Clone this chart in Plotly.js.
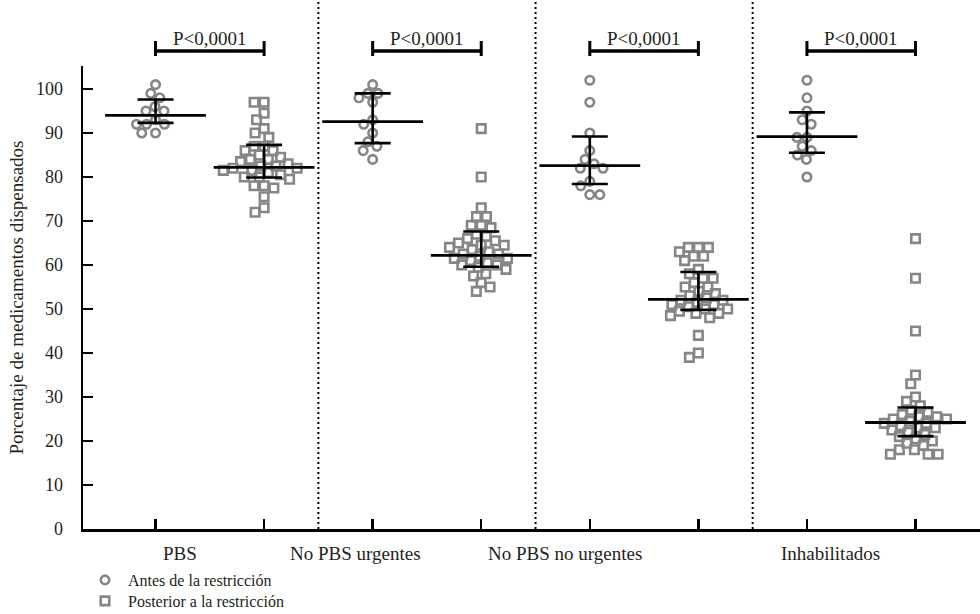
<!DOCTYPE html>
<html>
<head>
<meta charset="utf-8">
<script src="https://cdn.plot.ly/plotly-3.0.1.min.js"></script>
<style>html,body{margin:0;padding:0;background:#fff;}#chart{width:980px;height:614px;}</style>
</head>
<body>
<div id="chart"></div>
<script>
// ---- Data ----
const categories = ["PBS", "No PBS urgentes", "No PBS no urgentes", "Inhabilitados"];
const seriesNames = ["Antes de la restricción", "Posterior a la restricción"];
const pValues = ["P<0,0001", "P<0,0001", "P<0,0001", "P<0,0001"];

const antesPBS   = [101, 99, 98, 96, 95, 95, 93, 92, 92, 92, 90, 90];
const postPBS    = [97, 97, 94.5, 93, 91, 90, 89, 87, 87, 86, 86, 85, 84.5, 84, 84, 83.5, 83, 82.5, 82.5, 82, 82, 81.5, 81.5, 81, 80.5, 80, 80, 79.5, 78, 78, 77.5, 75.5, 73, 72];
const antesUrg   = [101, 99, 99, 98, 97, 93, 92, 90, 88, 87, 86, 84];
const postUrg    = [91, 80, 73, 71, 71, 69, 69, 68.5, 67, 66.5, 66, 65.5, 65, 64.5, 64.5, 64, 63.5, 63, 62.5, 62.5, 62, 61.5, 61.5, 61, 60.5, 60, 60, 59.5, 59, 58, 57.5, 56, 55, 54];
const antesNoUrg = [102, 97, 90, 86, 84, 83, 82, 82, 79, 78, 76, 76];
const postNoUrg  = [64, 64, 64, 63, 62, 62, 61, 59, 58, 57, 57, 56, 55, 55, 54, 53.5, 53, 52.5, 52, 52, 51.5, 51, 51, 50.5, 50, 50, 49.5, 49, 49, 48.5, 48, 44, 40, 39];
const antesInh   = [102, 98, 95, 93, 92, 89, 89, 87, 86, 85, 84, 80];
const postInh    = [66, 57, 45, 35, 33, 30, 29, 28, 27, 26.5, 26, 25.5, 25.5, 25, 25, 24.5, 24, 24, 23.5, 23, 23, 22.5, 22, 21.5, 21, 20.5, 20, 19.5, 19, 18, 18, 17, 17, 17];

// central line and whisker ends per group (antes, post for each category)
const centre = [94, 82.2, 92.6, 62.2, 82.6, 52.2, 89.2, 24.2];
const upper  = [97.6, 87.3, 99.0, 67.6, 89.2, 58.4, 94.7, 27.6];
const lower  = [92.3, 79.9, 87.7, 59.6, 78.4, 49.8, 85.5, 21.1];

const tickVals = [0, 10, 20, 30, 40, 50, 60, 70, 80, 90, 100];

// ---- Layout geometry ----
const W = 980, H = 614;
const M = {l: 83, r: 0, t: 66, b: 85, autoexpand: false};
const plotW = W - M.l - M.r, plotH = H - M.t - M.b;
const xRange = [0.332, 8.594];
const yRange = [0, 105.23];
const pxPerX = plotW / (xRange[1] - xRange[0]);
const pxPerY = plotH / (yRange[1] - yRange[0]);
const py2paper = py => (H - M.b - py) / plotH;
const px2paper = px => (px - M.l) / plotW;

// beeswarm: deterministic non-overlapping horizontal offsets
function swarm(vals, D) {
  const order = vals.map((v, i) => i).sort((a, b) => vals[b] - vals[a]);
  const placed = [];
  const offs = new Array(vals.length).fill(0);
  for (const i of order) {
    const y = vals[i] * pxPerY;
    const cands = [0];
    for (const p of placed) {
      const dy = Math.abs(p.y - y);
      if (dy < D) {
        const dx = Math.sqrt(D * D - dy * dy);
        cands.push(p.x + dx, p.x - dx);
      }
    }
    cands.sort((a, b) => Math.abs(a) - Math.abs(b) || a - b);
    let chosen = 0;
    for (const c of cands) {
      let ok = true;
      for (const p of placed) {
        const dx = p.x - c, dy = p.y - y;
        if (dx * dx + dy * dy < D * D - 0.01) { ok = false; break; }
      }
      if (ok) { chosen = c; break; }
    }
    placed.push({x: chosen, y: y});
    offs[i] = chosen / pxPerX;
  }
  return offs;
}

const groupsAntes = [antesPBS, antesUrg, antesNoUrg, antesInh];
const groupsPost  = [postPBS, postUrg, postNoUrg, postInh];
const D = 10;

function buildXY(groups, startPos) {
  const xs = [], ys = [];
  groups.forEach((g, k) => {
    const pos = startPos + 2 * k;
    const offs = swarm(g, D);
    g.forEach((v, i) => { xs.push(pos + offs[i]); ys.push(v); });
  });
  return {xs, ys};
}
const A = buildXY(groupsAntes, 1);
const P = buildXY(groupsPost, 2);

const grey = '#868686';
const serif = 'Liberation Serif, Times New Roman, serif';
const txt = '#231f20';

const traces = [
  {type: 'scatter', mode: 'markers', name: seriesNames[0], x: A.xs, y: A.ys, legend: 'legend',
   marker: {symbol: 'circle-open', size: 8.5, color: grey, line: {width: 2.6, color: grey}},
   hoverinfo: 'skip', cliponaxis: false},
  {type: 'scatter', mode: 'markers', name: seriesNames[1], x: P.xs, y: P.ys, legend: 'legend2',
   marker: {symbol: 'square-open', size: 8.5, color: grey, line: {width: 2.6, color: grey}},
   hoverinfo: 'skip', cliponaxis: false},
  {type: 'scatter', mode: 'markers', showlegend: false,
   x: centre.map((c, i) => i + 1), y: centre,
   marker: {symbol: 'line-ew', size: 72, color: '#000', line: {width: 2.8, color: '#000'}},
   error_y: {type: 'data', symmetric: false,
             array: upper.map((u, i) => u - centre[i]),
             arrayminus: lower.map((l, i) => centre[i] - l),
             color: '#000', thickness: 2.6, width: 18},
   hoverinfo: 'skip', cliponaxis: false}
];

const shapes = [];
const annotations = [];
// dotted separators between categories
[2.5, 4.5, 6.5].forEach(x => shapes.push({type: 'line', xref: 'x', yref: 'paper', x0: x, x1: x,
  y0: 0, y1: py2paper(0), line: {color: '#000', width: 2, dash: '2px,3px'}}));
// significance brackets
categories.forEach((c, k) => {
  const a = 1 + 2 * k, b = 2 + 2 * k;
  shapes.push({type: 'line', xref: 'x', yref: 'paper', x0: a, x1: b, y0: py2paper(51), y1: py2paper(51),
    line: {color: '#000', width: 3.5}});
  [a, b].forEach(x => shapes.push({type: 'line', xref: 'x', yref: 'paper', x0: x, x1: x,
    y0: py2paper(41), y1: py2paper(56), line: {color: '#000', width: 3}}));
  annotations.push({xref: 'x', yref: 'paper', x: (a + b) / 2, y: py2paper(38), text: pValues[k],
    showarrow: false, xanchor: 'center', yanchor: 'middle', font: {family: serif, size: 19, color: txt}});
});
// category labels
const labelX = [1.226, 2.838, 4.772, 7.22];
categories.forEach((c, k) => annotations.push({xref: 'x', yref: 'paper', x: labelX[k], y: py2paper(553),
  text: c, showarrow: false, xanchor: 'center', yanchor: 'middle', font: {family: serif, size: 19, color: txt}}));

const legendBase = {xanchor: 'left', yanchor: 'middle', bgcolor: 'rgba(0,0,0,0)', borderwidth: 0,
                    itemwidth: 36, font: {family: serif, size: 16, color: txt}};

const layout = {
  width: W, height: H,
  margin: M,
  paper_bgcolor: '#fff', plot_bgcolor: '#fff',
  showlegend: true,
  legend:  Object.assign({}, legendBase, {x: px2paper(82), y: py2paper(580)}),
  legend2: Object.assign({}, legendBase, {x: px2paper(82), y: py2paper(601)}),
  xaxis: {range: xRange, showgrid: false, zeroline: false, showline: true, linecolor: '#000', linewidth: 2.5,
          tickmode: 'array', tickvals: [1, 2, 3, 4, 5, 6, 7, 8], ticks: 'inside', ticklen: 10, tickwidth: 2.5,
          tickcolor: '#000', showticklabels: false, fixedrange: true},
  yaxis: {range: yRange, showgrid: false, zeroline: false, showline: true, linecolor: '#000', linewidth: 2.5,
          tickmode: 'array', tickvals: tickVals, ticktext: tickVals.map(String),
          ticks: 'inside', ticklen: 10, tickwidth: 2.5, tickcolor: '#000',
          ticklabelstandoff: 14,
          tickfont: {family: serif, size: 18, color: txt},
          title: {text: 'Porcentaje de medicamentos dispensados', standoff: 8,
                  font: {family: serif, size: 19, color: txt}},
          fixedrange: true},
  shapes: shapes,
  annotations: annotations
};

Plotly.newPlot('chart', traces, layout, {staticPlot: true, displayModeBar: false});
</script>
</body>
</html>
